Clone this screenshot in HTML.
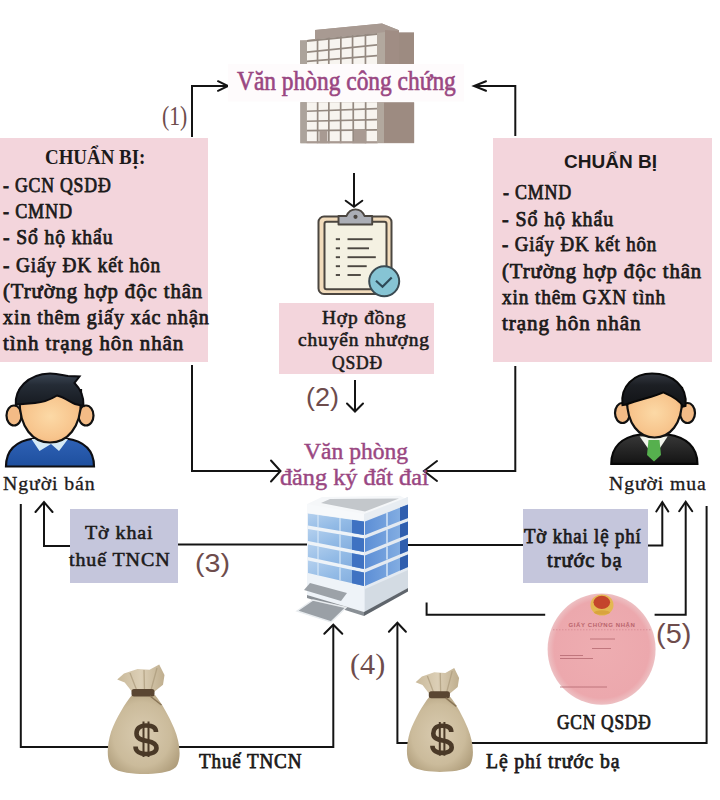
<!DOCTYPE html>
<html><head><meta charset="utf-8"><style>
html,body{margin:0;padding:0;background:#fff;}
body{width:720px;height:800px;position:relative;overflow:hidden;}
.t{position:absolute;line-height:1;white-space:nowrap;transform-origin:0 0;-webkit-text-stroke:0.45px currentColor;}
.b{position:absolute;}
svg{position:absolute;left:0;top:0;}
</style></head><body>
<svg width="720" height="800" viewBox="0 0 720 800"><polyline points="192.0,137.0 192.0,86.0 227.0,86.0" fill="none" stroke="#141414" stroke-width="2.0" stroke-linejoin="miter"/><polyline points="218.0,81.2 228.0,86.0 218.0,90.8" fill="none" stroke="#141414" stroke-width="2.0" stroke-linecap="round" stroke-linejoin="miter"/><polyline points="515.3,136.0 515.3,86.0 475.0,86.0" fill="none" stroke="#141414" stroke-width="2.0" stroke-linejoin="miter"/><polyline points="486.0,81.2 474.0,86.0 486.0,90.8" fill="none" stroke="#141414" stroke-width="2.0" stroke-linecap="round" stroke-linejoin="miter"/><polyline points="354.0,173.0 354.0,206.0" fill="none" stroke="#141414" stroke-width="2.0" stroke-linejoin="miter"/><polyline points="345.7,200.7 354.0,206.7 362.3,200.7" fill="none" stroke="#141414" stroke-width="2.0" stroke-linecap="round" stroke-linejoin="miter"/><polyline points="192.0,365.0 192.0,471.0 279.0,471.0" fill="none" stroke="#141414" stroke-width="2.0" stroke-linejoin="miter"/><polyline points="271.0,460.5 280.5,471.0 271.0,481.5" fill="none" stroke="#141414" stroke-width="2.0" stroke-linecap="round" stroke-linejoin="miter"/><polyline points="515.3,366.0 515.3,471.0 425.0,471.0" fill="none" stroke="#141414" stroke-width="2.0" stroke-linejoin="miter"/><polyline points="437.0,461.0 424.0,471.0 437.0,481.0" fill="none" stroke="#141414" stroke-width="2.0" stroke-linecap="round" stroke-linejoin="miter"/><polyline points="355.0,380.0 355.0,410.5" fill="none" stroke="#141414" stroke-width="2.0" stroke-linejoin="miter"/><polyline points="347.0,403.5 355.0,411.5 363.0,403.5" fill="none" stroke="#141414" stroke-width="2.0" stroke-linecap="round" stroke-linejoin="miter"/><polyline points="70.0,546.0 44.0,546.0 44.0,503.0" fill="none" stroke="#141414" stroke-width="2.0" stroke-linejoin="miter"/><polyline points="35.5,512.0 44.0,502.0 52.5,512.0" fill="none" stroke="#141414" stroke-width="2.0" stroke-linecap="round" stroke-linejoin="miter"/><polyline points="177.0,544.5 310.0,544.5" fill="none" stroke="#141414" stroke-width="2.0" stroke-linejoin="miter"/><polyline points="400.0,545.0 523.0,545.0" fill="none" stroke="#141414" stroke-width="2.0" stroke-linejoin="miter"/><polyline points="648.0,545.5 662.3,545.5 662.3,503.0" fill="none" stroke="#141414" stroke-width="2.0" stroke-linejoin="miter"/><polyline points="656.3,511.5 662.3,502.0 668.3,511.5" fill="none" stroke="#141414" stroke-width="2.0" stroke-linecap="round" stroke-linejoin="miter"/><polyline points="20.8,504.0 20.8,747.0 333.3,747.0 333.3,626.0" fill="none" stroke="#141414" stroke-width="2.0" stroke-linejoin="miter"/><polyline points="324.3,633.7 333.3,624.7 342.3,633.7" fill="none" stroke="#141414" stroke-width="2.0" stroke-linecap="round" stroke-linejoin="miter"/><polyline points="397.4,624.0 397.4,743.0 706.6,743.0 706.6,506.0" fill="none" stroke="#141414" stroke-width="2.0" stroke-linejoin="miter"/><polyline points="388.9,631.8 397.4,622.8 405.9,631.8" fill="none" stroke="#141414" stroke-width="2.0" stroke-linecap="round" stroke-linejoin="miter"/><polyline points="426.6,602.5 426.6,614.8 545.2,614.8" fill="none" stroke="#141414" stroke-width="2.0" stroke-linejoin="miter"/><polyline points="654.6,614.8 685.7,614.8 685.7,503.0" fill="none" stroke="#141414" stroke-width="2.0" stroke-linejoin="miter"/><polyline points="679.2,511.2 685.7,501.7 692.2,511.2" fill="none" stroke="#141414" stroke-width="2.0" stroke-linecap="round" stroke-linejoin="miter"/></svg><svg width="720" height="800"><polygon points="300,40.5 315,40 315,30 382,23.6 399,30.3 399,32.6 414,32.6 414,64 300,64" fill="#a89a92"/><polygon points="307,40 377,33 377,64 307,64" fill="#f7f4ef"/><rect x="316.7" y="30" width="1.7" height="34" fill="#948980"/><rect x="327.95" y="30" width="1.7" height="34" fill="#948980"/><rect x="340.0" y="30" width="1.7" height="34" fill="#948980"/><rect x="351.7" y="30" width="1.7" height="34" fill="#948980"/><rect x="364.59999999999997" y="30" width="1.7" height="34" fill="#948980"/><polygon points="315,30 382,23.6 399,30.3 399,33 377,33 307,40 315,40" fill="#a89a92"/><polygon points="307,40 377,33 377,35 307,42" fill="#948980"/><polygon points="307,51.2 377,44 377,45.7 307,52.9" fill="#948980"/><polygon points="307,60.5 377,54.8 377,56.5 307,62.2" fill="#948980"/><rect x="300" y="40.5" width="7" height="23.5" fill="#aca39b"/><polygon points="377,33 385,32 385,64 377,64" fill="#b2a89e"/><polygon points="385,30 399,31 399,64 385,64" fill="#a08d84"/><rect x="399" y="32.6" width="15" height="31.4" fill="#9d8b81"/><rect x="300.4" y="102.2" width="113.7" height="41" fill="#a89a92"/><polygon points="306.7,102.2 377,102.2 377,141.5 306.7,141.5" fill="#f7f4ef"/><rect x="316.8" y="102.2" width="1.7" height="41" fill="#948980"/><rect x="328.0" y="102.2" width="1.7" height="41" fill="#948980"/><rect x="339.8" y="102.2" width="1.7" height="41" fill="#948980"/><rect x="352.4" y="102.2" width="1.7" height="41" fill="#948980"/><rect x="364.8" y="102.2" width="1.7" height="41" fill="#948980"/><polygon points="306.7,110.4 377,107.8 377,109.5 306.7,112.1" fill="#948980"/><polygon points="306.7,120.4 377,118.7 377,120.4 306.7,122.1" fill="#948980"/><polygon points="306.7,129.8 377,129 377,130.7 306.7,131.5" fill="#948980"/><rect x="300.4" y="102.2" width="6.3" height="41" fill="#aca39b"/><rect x="319.4" y="130.6" width="8" height="12.6" fill="#a89a92"/><rect x="354" y="130" width="12" height="13.2" fill="#a89a92"/><rect x="306.7" y="141.3" width="71" height="2" fill="#a89a92"/><rect x="377" y="102.7" width="7" height="40.1" fill="#b2a89e"/><rect x="384" y="102.7" width="30.1" height="40.1" fill="#9d8b81"/><rect x="228" y="64" width="236" height="37.5" fill="#fefbfc"/></svg><svg width="720" height="800">
<rect x="318.5" y="216.5" width="73" height="77.5" rx="5.5" fill="#f2dcbc" stroke="#4b4640" stroke-width="2"/>
<rect x="324.5" y="221.8" width="62" height="67.5" rx="2" fill="#f4f1e2" stroke="#4b4640" stroke-width="2"/>
<path d="M338.5,216 L346.5,216 C348.5,211 351,209.4 355.5,209.4 C360,209.4 362.5,211 364.5,216 L372.2,216 L372.2,224.5 L338.5,224.5 Z" fill="#abaeb6" stroke="#4b4640" stroke-width="1.9" stroke-linejoin="round"/>
<circle cx="355.5" cy="216.8" r="2.1" fill="#4b4640"/>
<g stroke="#4b4640" stroke-width="1.9">
<line x1="335.8" y1="239.2" x2="340" y2="239.2"/><line x1="347.5" y1="239.2" x2="372.5" y2="239.2"/>
<line x1="335.8" y1="248.3" x2="340" y2="248.3"/><line x1="347.5" y1="248.3" x2="369" y2="248.3"/>
<line x1="335.8" y1="257.2" x2="340" y2="257.2"/><line x1="347.5" y1="257.2" x2="375.8" y2="257.2"/>
<line x1="335.8" y1="266.2" x2="340" y2="266.2"/><line x1="347.5" y1="266.2" x2="366.7" y2="266.2"/>
<line x1="335.8" y1="275" x2="340" y2="275"/><line x1="347.5" y1="275" x2="360.8" y2="275"/>
</g>
<circle cx="384.2" cy="281.3" r="15" fill="#86c4d4" stroke="#3a4a52" stroke-width="2"/>
<polyline points="376,280.8 382.5,286.7 391.7,277.5" fill="none" stroke="#2f4a58" stroke-width="2.2"/>
</svg><svg width="720" height="800">
<defs>
<radialGradient id="face1" cx="0.5" cy="0.5" r="0.6"><stop offset="0" stop-color="#fcd9a6"/><stop offset="0.7" stop-color="#f7c48c"/><stop offset="1" stop-color="#f0ae74"/></radialGradient>
<linearGradient id="shirt1" x1="0" y1="0" x2="0" y2="1"><stop offset="0" stop-color="#2f62b6"/><stop offset="1" stop-color="#1e4f9e"/></linearGradient>
<linearGradient id="hair1" x1="0" y1="0" x2="0" y2="1"><stop offset="0" stop-color="#3c4654"/><stop offset="0.35" stop-color="#252c36"/><stop offset="1" stop-color="#161a20"/></linearGradient>
</defs>
<path d="M6,466.5 C6,450 16,441 34,438.5 L66,438.5 C84,441 94,450 94,466.5 Z" fill="url(#shirt1)" stroke="#0e0e12" stroke-width="2.2"/>
<path d="M31.5,439 L39.5,451 L51,444 L59,451 L68,439 Z" fill="#d6eaf6"/>
<ellipse cx="14" cy="415.5" rx="7.5" ry="10" fill="#f3bb86" stroke="#111" stroke-width="2.2"/>
<ellipse cx="86" cy="415.5" rx="7.5" ry="10" fill="#f3bb86" stroke="#111" stroke-width="2.2"/>
<path d="M19.5,390 L19.5,400 C19.5,428 33,442.5 50,442.5 C67,442.5 81,428 81,400 L81,390 Z" fill="url(#face1)" stroke="#111" stroke-width="2.2"/>
<path d="M15.8,405 C14.5,390 27,374 50,373.5 C58,373.5 64,375.5 68,376 L79.5,376.5 L74.5,383 C80.5,389 84,396 83.5,406 L75,404 C70,402 64,397 57,395.5 C53,398 47,402 35,403 L17,404.5 Z" fill="url(#hair1)" stroke="#0c0c10" stroke-width="2"/>
</svg><svg width="720" height="800">
<defs>
<radialGradient id="face2" cx="0.5" cy="0.5" r="0.6"><stop offset="0" stop-color="#fcd9a6"/><stop offset="0.7" stop-color="#f7c48c"/><stop offset="1" stop-color="#f0ae74"/></radialGradient>
<linearGradient id="suit" x1="0" y1="0" x2="0" y2="1"><stop offset="0" stop-color="#383838"/><stop offset="1" stop-color="#141414"/></linearGradient>
<linearGradient id="hair2" x1="0" y1="0" x2="0" y2="1"><stop offset="0" stop-color="#343840"/><stop offset="0.35" stop-color="#1c1f24"/><stop offset="1" stop-color="#111316"/></linearGradient>
</defs>
<path d="M611.3,463.8 C611.3,447 622,437 640,434.5 L668,434.5 C686,437 697.4,447 697.4,463.8 Z" fill="url(#suit)" stroke="#080808" stroke-width="2.2"/>
<path d="M639.7,436.5 L654,457 L667.6,436.5 Z" fill="#f2f4ec"/>
<path d="M648.5,440 L659.5,440 L661,455 L654,461.5 L647,455 Z" fill="#56b04e"/>
<ellipse cx="622.5" cy="413" rx="7.5" ry="10" fill="#f3bb86" stroke="#111" stroke-width="2.2"/>
<ellipse cx="687.5" cy="413" rx="7.5" ry="10" fill="#f3bb86" stroke="#111" stroke-width="2.2"/>
<path d="M627,388 L627,400 C627,424 639,437.5 654.5,437.5 C670,437.5 682,424 682,400 L682,388 Z" fill="url(#face2)" stroke="#111" stroke-width="2.2"/>
<path d="M622.5,405 C620,386 634,373.6 652,373.6 C672,373.6 688,386 685.5,406 L683,406.5 C680,400 672,396 663.3,392.3 C654,397 640,399 626,404.5 Z" fill="url(#hair2)" stroke="#080808" stroke-width="2"/>
</svg><svg width="720" height="800"><defs><linearGradient id="lf" x1="0" y1="0" x2="1" y2="1"><stop offset="0" stop-color="#b4d0ee"/><stop offset="0.5" stop-color="#93bbe6"/><stop offset="1" stop-color="#7ea9dc"/></linearGradient><linearGradient id="rf" x1="0" y1="0" x2="1" y2="0"><stop offset="0" stop-color="#5d8fd6"/><stop offset="1" stop-color="#8ab3e4"/></linearGradient></defs><polygon points="307,504 364,514 364,612 307,595" fill="#eef3f8"/><polygon points="364,514 408,497 408,588 364,612" fill="#e4eaf1"/><polygon points="308,513.5 364,521.5 364,535 308,525.5" fill="url(#lf)"/><polygon points="352,519.8 364,521.5 364,535 352,533.0" fill="#3f72c2"/><polygon points="365,521.5 408,504.5 408,518 365,535" fill="url(#rf)"/><polygon points="400,507.6 408,504.5 408,518 400,521.1" fill="#2f5eae"/><line x1="318" y1="515.0" x2="318" y2="527.3" stroke="#d6e6f6" stroke-width="1.2"/><line x1="340" y1="518.1" x2="340" y2="531.0" stroke="#d6e6f6" stroke-width="1.2"/><line x1="387" y1="512.6" x2="387" y2="526.1" stroke="#d6e6f6" stroke-width="1.5"/><polygon points="308,529.0 364,538.5 364,552 308,541" fill="url(#lf)"/><polygon points="352,536.5 364,538.5 364,552 352,549.7" fill="#3f72c2"/><polygon points="365,538.5 408,521.5 408,534.5 365,552" fill="url(#rf)"/><polygon points="400,524.6 408,521.5 408,534.5 400,537.7" fill="#2f5eae"/><line x1="318" y1="530.8" x2="318" y2="543.1" stroke="#d6e6f6" stroke-width="1.2"/><line x1="340" y1="534.5" x2="340" y2="547.4" stroke="#d6e6f6" stroke-width="1.2"/><line x1="387" y1="529.6" x2="387" y2="542.9" stroke="#d6e6f6" stroke-width="1.5"/><polygon points="308,544.5 364,555.5 364,569 308,557" fill="url(#lf)"/><polygon points="352,553.2 364,555.5 364,569 352,566.5" fill="#3f72c2"/><polygon points="365,555.5 408,538.0 408,551 365,569" fill="url(#rf)"/><polygon points="400,541.2 408,538.0 408,551 400,554.3" fill="#2f5eae"/><line x1="318" y1="546.6" x2="318" y2="559.3" stroke="#d6e6f6" stroke-width="1.2"/><line x1="340" y1="550.9" x2="340" y2="563.9" stroke="#d6e6f6" stroke-width="1.2"/><line x1="387" y1="546.4" x2="387" y2="559.6" stroke="#d6e6f6" stroke-width="1.5"/><polygon points="308,560.5 364,572.5 364,586 308,573" fill="url(#lf)"/><polygon points="352,570.0 364,572.5 364,586 352,583.3" fill="#3f72c2"/><polygon points="365,572.5 408,554.5 408,567 365,586" fill="url(#rf)"/><polygon points="400,557.8 408,554.5 408,567 400,570.5" fill="#2f5eae"/><line x1="318" y1="562.8" x2="318" y2="575.5" stroke="#d6e6f6" stroke-width="1.2"/><line x1="340" y1="567.4" x2="340" y2="580.5" stroke="#d6e6f6" stroke-width="1.2"/><line x1="387" y1="563.1" x2="387" y2="576.1" stroke="#d6e6f6" stroke-width="1.5"/><polygon points="365,589 408,570 408,588 365,612" fill="#d3dbe3"/><polygon points="364,612 408,588 408,591.5 364,616" fill="#5f656c"/><polygon points="307,595 364,612 364,616 307,598" fill="#8a9096"/><polygon points="306.7,504.2 322,497 400,495.8 407.5,500 364,518.3" fill="#f5f7f9"/><polygon points="307,504 364,514 364,521 307,513" fill="#f7f9fb"/><polygon points="364,514 408,497 408,504 364,521" fill="#e8edf2"/><polygon points="321,503 330,499 399,498.5 365,511.5" fill="#c3c7cb"/><polygon points="310,583 347,593 341,601 304,590" fill="#9ca2a8"/><polygon points="297,611 313,600 346,607.5 331,622" fill="#9aa0a6" stroke="#e8ecef" stroke-width="1.5"/></svg><svg width="720" height="800"><defs><radialGradient id="bg1" cx="0.48" cy="0.5" r="0.62"><stop offset="0" stop-color="#d9cbb0"/><stop offset="0.65" stop-color="#cbbb9b"/><stop offset="1" stop-color="#ae9c7a"/></radialGradient>
<linearGradient id="bg1r" x1="0" y1="0" x2="1" y2="0"><stop offset="0" stop-color="#c9b99a"/><stop offset="0.5" stop-color="#dccfb6"/><stop offset="1" stop-color="#bfae8e"/></linearGradient></defs>
<polygon points="117.2,679.5 124.0,673.5 137.5,669.0 149.5,669.7 159.2,664.5 164.5,675.0 163.0,684.7 154.0,692.0 132.2,692.0 124.7,682.5" fill="url(#bg1r)"/>
<path d="M137.0,691.0 L130.0,673.0 M144.5,691.0 L144.0,670.0 M151.0,690.0 L157.0,668.0" stroke="#ad9c7d" stroke-width="1.3" opacity="0.75"/>
<path d="M132.0,695.0 C126.0,702.0 116.0,718.0 111.0,732.0 C107.0,745.0 106.0,760.0 112.0,767.0 C118.0,773.0 135.0,774.0 143.5,774.0 C155.0,774.0 170.0,773.0 176.0,767.0 C182.0,759.0 180.0,742.0 174.0,728.0 C169.0,716.0 161.0,702.0 155.0,695.0 Z" fill="url(#bg1)"/>
<rect x="131.5" y="689.0" width="23.0" height="7.5" rx="2.5" fill="#5a4632"/>
<path d="M150.0,696.0 L161.5,705.0" stroke="#8a7658" stroke-width="1.5"/>
<path d="M156.0,732.0 C156.0,727.0 151.0,725.5 146.0,725.5 C139.5,725.5 136.5,729.0 136.5,733.5 C136.5,739.0 142.0,740.0 147.0,741.0 C152.5,742.0 156.5,744.0 156.5,748.0 C156.5,752.0 152.0,754.0 146.0,754.0 C140.0,754.0 135.5,751.5 135.5,746.5" fill="none" stroke="#4a3927" stroke-width="4.6"/>
<path d="M143.5,721.5 L143.5,757.0 M148.5,721.5 L148.5,757.0" stroke="#4a3927" stroke-width="2"/><defs><radialGradient id="bg2" cx="0.48" cy="0.5" r="0.62"><stop offset="0" stop-color="#d9cbb0"/><stop offset="0.65" stop-color="#cbbb9b"/><stop offset="1" stop-color="#ae9c7a"/></radialGradient>
<linearGradient id="bg2r" x1="0" y1="0" x2="1" y2="0"><stop offset="0" stop-color="#c9b99a"/><stop offset="0.5" stop-color="#dccfb6"/><stop offset="1" stop-color="#bfae8e"/></linearGradient></defs>
<polygon points="415.6,682.2 421.9,676.5 434.3,672.2 445.3,672.9 454.2,667.9 459.1,677.9 457.7,687.1 449.4,694.0 429.4,694.0 422.5,685.0" fill="url(#bg2r)"/>
<path d="M433.8,693.1 L427.4,676.0 M440.7,693.1 L440.2,673.1 M446.7,692.1 L452.2,671.2" stroke="#ad9c7d" stroke-width="1.3" opacity="0.75"/>
<path d="M429.2,696.9 C423.7,703.5 414.5,718.7 409.9,732.0 C406.2,744.4 405.3,758.6 410.8,765.3 C416.4,770.9 432.0,771.9 439.8,771.9 C450.3,771.9 464.1,770.9 469.6,765.3 C475.1,757.7 473.3,741.5 467.8,728.2 C463.2,716.8 455.8,703.5 450.3,696.9 Z" fill="url(#bg2)"/>
<rect x="428.8" y="691.2" width="21.1" height="7.1" rx="2.5" fill="#5a4632"/>
<path d="M445.7,697.8 L456.3,706.4" stroke="#8a7658" stroke-width="1.5"/>
<path d="M451.3,732.0 C451.3,727.3 446.7,725.8 442.1,725.8 C436.1,725.8 433.3,729.2 433.3,733.4 C433.3,738.7 438.4,739.6 443.0,740.6 C448.0,741.5 451.7,743.4 451.7,747.2 C451.7,751.0 447.6,752.9 442.1,752.9 C436.6,752.9 432.4,750.5 432.4,745.8" fill="none" stroke="#4a3927" stroke-width="4.6"/>
<path d="M439.8,722.0 L439.8,755.8 M444.4,722.0 L444.4,755.8" stroke="#4a3927" stroke-width="2"/></svg><svg width="720" height="800">
<defs><radialGradient id="cg" cx="0.5" cy="0.5" r="0.5"><stop offset="0" stop-color="#eeadb1"/><stop offset="0.88" stop-color="#eca8ad"/><stop offset="1" stop-color="#edc0c3"/></radialGradient>
<radialGradient id="emb" cx="0.5" cy="0.5" r="0.5"><stop offset="0" stop-color="#b8312a"/><stop offset="0.55" stop-color="#c8482e"/><stop offset="0.62" stop-color="#e6b43c"/><stop offset="1" stop-color="#efd27a"/></radialGradient></defs>
<ellipse cx="601.6" cy="649.2" rx="54" ry="55.6" fill="url(#cg)"/>
<ellipse cx="602" cy="605" rx="11.5" ry="10.5" fill="#e4b84c" opacity="0.95"/><ellipse cx="601.8" cy="602.3" rx="8.3" ry="6.6" fill="#c4452c"/><ellipse cx="602" cy="612.5" rx="8" ry="2.2" fill="#d9a43e"/>
<text x="602" y="626.5" font-family="Liberation Sans" font-size="6" font-weight="700" fill="#b9646c" text-anchor="middle" letter-spacing="0.6">GIẤY CHỨNG NHẬN</text>
<line x1="553" y1="629.8" x2="651" y2="629.8" stroke="#d88c94" stroke-width="0.9" stroke-dasharray="1.5,1.5"/>
<line x1="590" y1="639" x2="615" y2="639" stroke="#b46870" stroke-width="0.8"/>
<line x1="592" y1="648.5" x2="611" y2="648.5" stroke="#b46870" stroke-width="0.8"/>
<line x1="560" y1="655.5" x2="583" y2="655.5" stroke="#b46870" stroke-width="0.8"/>
<line x1="560" y1="658.5" x2="593" y2="658.5" stroke="#b46870" stroke-width="0.8"/>
<line x1="560" y1="687" x2="607" y2="687" stroke="#b46870" stroke-width="0.8"/>
</svg>
<div class="b" style="left:0;top:138px;width:208px;height:224px;background:#f3d5dc"></div>
<div class="b" style="left:493px;top:137.5px;width:219px;height:224.5px;background:#f3d5dc"></div>
<div class="b" style="left:278.5px;top:302.5px;width:155.5px;height:71.5px;background:#f3d5dc"></div>
<div class="b" style="left:69.5px;top:508.5px;width:108px;height:74px;background:#c5c6dc"></div>
<div class="b" style="left:523px;top:508.5px;width:125px;height:74px;background:#c5c6dc"></div>

<div class="t" style="left:236.70px;top:66.97px;font-family:'Liberation Serif', serif;font-weight:400;font-size:27.5px;letter-spacing:0em;color:#9a4782;-webkit-text-stroke:0.65px #9a4782;transform:scaleX(0.8514)">Văn phòng công chứng</div>
<div class="t" style="left:161.52px;top:102.45px;font-family:'Liberation Serif', serif;font-weight:400;font-size:28px;letter-spacing:0em;color:#6e4c4c;-webkit-text-stroke:0px #6e4c4c;transform:scaleX(0.7767)">(1)</div>
<div class="t" style="left:44.98px;top:146.73px;font-family:'Liberation Serif', serif;font-weight:700;font-size:20.5px;letter-spacing:0em;color:#1c1a1a;-webkit-text-stroke:0px #1c1a1a;transform:scaleX(0.9226)">CHUẨN BỊ:</div>
<div class="t" style="left:2.82px;top:174.78px;font-family:'Liberation Serif', serif;font-weight:400;font-size:20.2px;letter-spacing:0.045em;color:#1c1a1a;-webkit-text-stroke:0.75px #1c1a1a;transform:scaleX(0.8785)">- GCN QSDĐ</div>
<div class="t" style="left:2.80px;top:200.78px;font-family:'Liberation Serif', serif;font-weight:400;font-size:20.2px;letter-spacing:0.045em;color:#1c1a1a;-webkit-text-stroke:0.75px #1c1a1a;transform:scaleX(0.8973)">- CMND</div>
<div class="t" style="left:2.73px;top:226.68px;font-family:'Liberation Serif', serif;font-weight:400;font-size:20.2px;letter-spacing:0.045em;color:#1c1a1a;-webkit-text-stroke:0.75px #1c1a1a;transform:scaleX(0.9721)">- Sổ hộ khẩu</div>
<div class="t" style="left:2.75px;top:254.88px;font-family:'Liberation Serif', serif;font-weight:400;font-size:20.2px;letter-spacing:0.045em;color:#1c1a1a;-webkit-text-stroke:0.75px #1c1a1a;transform:scaleX(0.9528)">- Giấy ĐK kết hôn</div>
<div class="t" style="left:2.67px;top:280.88px;font-family:'Liberation Serif', serif;font-weight:400;font-size:20.2px;letter-spacing:0.045em;color:#1c1a1a;-webkit-text-stroke:0.75px #1c1a1a;transform:scaleX(1.0264)">(Trường hợp độc thân</div>
<div class="t" style="left:2.71px;top:307.28px;font-family:'Liberation Serif', serif;font-weight:400;font-size:20.2px;letter-spacing:0.045em;color:#1c1a1a;-webkit-text-stroke:0.75px #1c1a1a;transform:scaleX(0.9917)">xin thêm giấy xác nhận</div>
<div class="t" style="left:2.66px;top:332.88px;font-family:'Liberation Serif', serif;font-weight:400;font-size:20.2px;letter-spacing:0.045em;color:#1c1a1a;-webkit-text-stroke:0.75px #1c1a1a;transform:scaleX(1.0366)">tình trạng hôn nhân</div>
<div class="t" style="left:563.98px;top:152.76px;font-family:'Liberation Sans', sans-serif;font-weight:700;font-size:18.6px;letter-spacing:0em;color:#1c1a1a;-webkit-text-stroke:0px #1c1a1a;transform:scaleX(1.0225)">CHUẨN BỊ</div>
<div class="t" style="left:502.51px;top:181.78px;font-family:'Liberation Serif', serif;font-weight:400;font-size:20.2px;letter-spacing:0.045em;color:#1c1a1a;-webkit-text-stroke:0.75px #1c1a1a;transform:scaleX(0.8880)">- CMND</div>
<div class="t" style="left:502.41px;top:208.98px;font-family:'Liberation Serif', serif;font-weight:400;font-size:20.2px;letter-spacing:0.045em;color:#1c1a1a;-webkit-text-stroke:0.75px #1c1a1a;transform:scaleX(0.9874)">- Sổ hộ khẩu</div>
<div class="t" style="left:502.46px;top:234.48px;font-family:'Liberation Serif', serif;font-weight:400;font-size:20.2px;letter-spacing:0.045em;color:#1c1a1a;-webkit-text-stroke:0.75px #1c1a1a;transform:scaleX(0.9362)">- Giấy ĐK kết hôn</div>
<div class="t" style="left:502.37px;top:261.48px;font-family:'Liberation Serif', serif;font-weight:400;font-size:20.2px;letter-spacing:0.045em;color:#1c1a1a;-webkit-text-stroke:0.75px #1c1a1a;transform:scaleX(1.0264)">(Trường hợp độc thân</div>
<div class="t" style="left:502.45px;top:286.98px;font-family:'Liberation Serif', serif;font-weight:400;font-size:20.2px;letter-spacing:0.045em;color:#1c1a1a;-webkit-text-stroke:0.75px #1c1a1a;transform:scaleX(0.9547)">xin thêm GXN tình</div>
<div class="t" style="left:502.36px;top:313.48px;font-family:'Liberation Serif', serif;font-weight:400;font-size:20.2px;letter-spacing:0.045em;color:#1c1a1a;-webkit-text-stroke:0.75px #1c1a1a;transform:scaleX(1.0427)">trạng hôn nhân</div>
<div class="t" style="left:322.22px;top:309.61px;font-family:'Liberation Serif', serif;font-weight:400;font-size:17.9px;letter-spacing:0.045em;color:#1c1a1a;-webkit-text-stroke:0.55px #1c1a1a;transform:scaleX(1.0829)">Hợp đồng</div>
<div class="t" style="left:298.32px;top:331.91px;font-family:'Liberation Serif', serif;font-weight:400;font-size:17.9px;letter-spacing:0.045em;color:#1c1a1a;-webkit-text-stroke:0.55px #1c1a1a;transform:scaleX(1.0849)">chuyển nhượng</div>
<div class="t" style="left:331.72px;top:355.41px;font-family:'Liberation Serif', serif;font-weight:400;font-size:17.9px;letter-spacing:0.045em;color:#1c1a1a;-webkit-text-stroke:0.55px #1c1a1a;transform:scaleX(0.9800)">QSDĐ</div>
<div class="t" style="left:305.76px;top:383.77px;font-family:'Liberation Sans', sans-serif;font-weight:400;font-size:26.5px;letter-spacing:0em;color:#6e4c4c;-webkit-text-stroke:0px #6e4c4c;transform:scaleX(1.0207)">(2)</div>
<div class="t" style="left:304.35px;top:440.66px;font-family:'Liberation Serif', serif;font-weight:400;font-size:22.5px;letter-spacing:0em;color:#9a4782;-webkit-text-stroke:0.45px #9a4782;transform:scaleX(1.0469)">Văn phòng</div>
<div class="t" style="left:279.52px;top:466.66px;font-family:'Liberation Serif', serif;font-weight:400;font-size:22.5px;letter-spacing:0em;color:#9a4782;-webkit-text-stroke:0.45px #9a4782;transform:scaleX(1.0765)">đăng ký đất đai</div>
<div class="t" style="left:2.92px;top:475.47px;font-family:'Liberation Serif', serif;font-weight:400;font-size:18.3px;letter-spacing:0.045em;color:#1c1a1a;-webkit-text-stroke:0.3px #1c1a1a;transform:scaleX(1.0843)">Người bán</div>
<div class="t" style="left:608.92px;top:475.17px;font-family:'Liberation Serif', serif;font-weight:400;font-size:18.3px;letter-spacing:0.045em;color:#1c1a1a;-webkit-text-stroke:0.3px #1c1a1a;transform:scaleX(1.0795)">Người mua</div>
<div class="t" style="left:85.00px;top:522.67px;font-family:'Liberation Serif', serif;font-weight:400;font-size:19.5px;letter-spacing:0.045em;color:#1c1a1a;-webkit-text-stroke:0.55px #1c1a1a;transform:scaleX(1.0262)">Tờ khai</div>
<div class="t" style="left:68.98px;top:549.67px;font-family:'Liberation Serif', serif;font-weight:400;font-size:19.5px;letter-spacing:0.045em;color:#1c1a1a;-webkit-text-stroke:0.55px #1c1a1a;transform:scaleX(1.0240)">thuế TNCN</div>
<div class="t" style="left:194.54px;top:549.98px;font-family:'Liberation Sans', sans-serif;font-weight:400;font-size:26.6px;letter-spacing:0em;color:#6e4c4c;-webkit-text-stroke:0px #6e4c4c;transform:scaleX(1.0793)">(3)</div>
<div class="t" style="left:524.40px;top:525.71px;font-family:'Liberation Serif', serif;font-weight:400;font-size:21px;letter-spacing:0.045em;color:#1c1a1a;-webkit-text-stroke:0.75px #1c1a1a;transform:scaleX(0.8969)">Tờ khai lệ phí</div>
<div class="t" style="left:546.70px;top:550.41px;font-family:'Liberation Serif', serif;font-weight:400;font-size:21px;letter-spacing:0.045em;color:#1c1a1a;-webkit-text-stroke:0.75px #1c1a1a;transform:scaleX(0.9776)">trước bạ</div>
<div class="t" style="left:350.36px;top:649.51px;font-family:'Liberation Serif', serif;font-weight:400;font-size:29px;letter-spacing:0em;color:#6e4c4c;-webkit-text-stroke:0px #6e4c4c;transform:scaleX(1.0406)">(4)</div>
<div class="t" style="left:655.94px;top:620.00px;font-family:'Liberation Sans', sans-serif;font-weight:400;font-size:28px;letter-spacing:0em;color:#6e4c4c;-webkit-text-stroke:0px #6e4c4c;transform:scaleX(1.0323)">(5)</div>
<div class="t" style="left:556.63px;top:711.75px;font-family:'Liberation Serif', serif;font-weight:400;font-size:20px;letter-spacing:0.045em;color:#1c1a1a;-webkit-text-stroke:0.75px #1c1a1a;transform:scaleX(0.8679)">GCN QSDĐ</div>
<div class="t" style="left:198.90px;top:750.89px;font-family:'Liberation Serif', serif;font-weight:400;font-size:21.5px;letter-spacing:0.045em;color:#1c1a1a;-webkit-text-stroke:0.75px #1c1a1a;transform:scaleX(0.8878)">Thuế TNCN</div>
<div class="t" style="left:486.08px;top:750.59px;font-family:'Liberation Serif', serif;font-weight:400;font-size:21.5px;letter-spacing:0.045em;color:#1c1a1a;-webkit-text-stroke:0.75px #1c1a1a;transform:scaleX(0.9153)">Lệ phí trước bạ</div>

</body></html>
